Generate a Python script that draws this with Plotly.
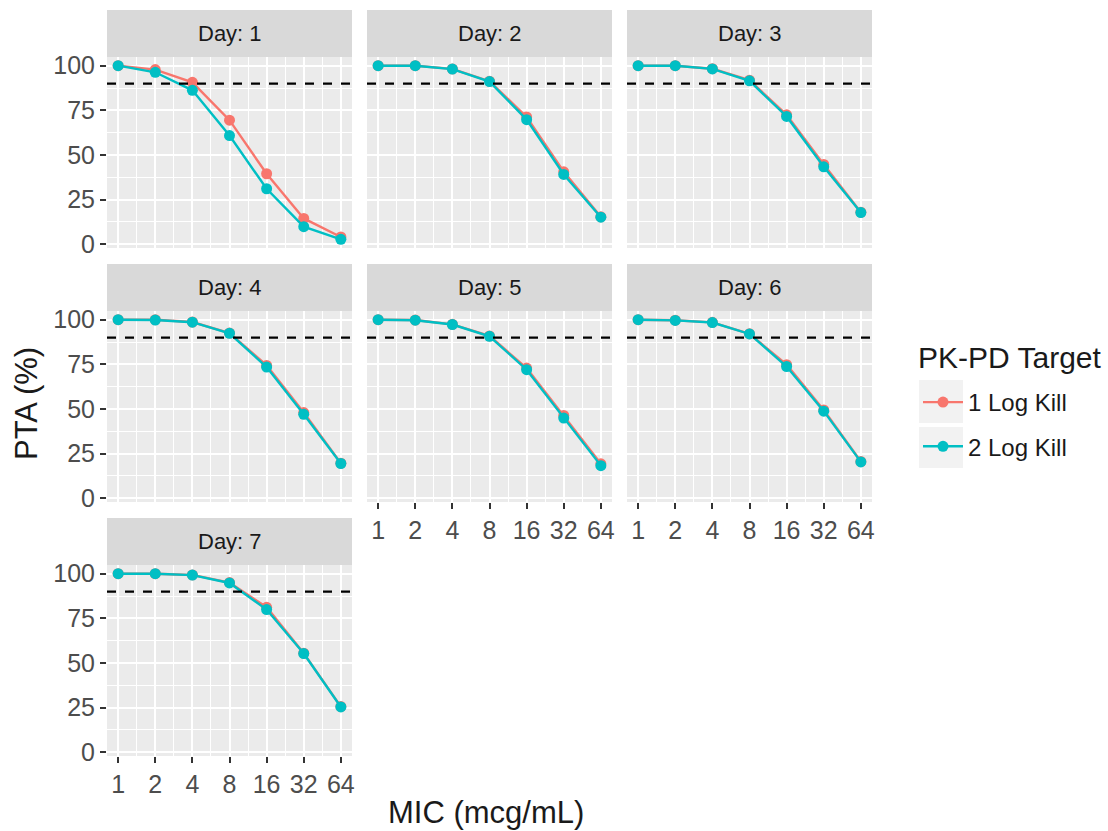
import math
import plotly.graph_objects as go

# ---------------- data ----------------
MIC = [1, 2, 4, 8, 16, 32, 64]
MIC_LABELS = ["1", "2", "4", "8", "16", "32", "64"]
DAYS = [1, 2, 3, 4, 5, 6, 7]
SERIES = ["1 Log Kill", "2 Log Kill"]
TARGET = 90
Y_TICKS = [0, 25, 50, 75, 100]

day1_log1 = [100, 97.8, 90.7, 69.5, 39.5, 14.5, 4.1]
day1_log2 = [100, 96.3, 86.2, 60.9, 31.1, 9.9, 2.8]
day2_log1 = [100, 100, 98.2, 91.3, 71.3, 40.6, 15.4]
day2_log2 = [100, 100, 98.1, 91.1, 69.8, 39.1, 15.2]
day3_log1 = [100, 100, 98.3, 91.9, 72.5, 44.7, 18.0]
day3_log2 = [100, 100, 98.2, 91.5, 71.6, 43.4, 17.8]
day4_log1 = [100, 100, 98.7, 92.5, 74.4, 48.0, 19.7]
day4_log2 = [100, 99.8, 98.6, 92.4, 73.5, 47.0, 19.5]
day5_log1 = [100, 99.8, 97.4, 90.9, 72.9, 46.4, 19.3]
day5_log2 = [100, 99.7, 97.3, 90.7, 72.0, 44.9, 18.3]
day6_log1 = [100, 99.7, 98.5, 92.1, 74.8, 49.5, 20.6]
day6_log2 = [100, 99.6, 98.4, 92.0, 73.8, 48.8, 20.4]
day7_log1 = [100, 100, 99.3, 95.0, 81.2, 55.5, 25.6]
day7_log2 = [100, 100, 99.2, 94.8, 79.9, 55.3, 25.4]

LOG1 = [day1_log1, day2_log1, day3_log1, day4_log1, day5_log1, day6_log1, day7_log1]
LOG2 = [day1_log2, day2_log2, day3_log2, day4_log2, day5_log2, day6_log2, day7_log2]

# ---------------- style ----------------
W, H = 1108, 831
FONT = "Liberation Sans, Arial, sans-serif"
COLORS = ["#F8766D", "#00BFC4"]
COL_X = [(107, 352), (367, 612), (627, 872)]
ROW_Y = [(10, 57, 248), (264, 311, 502), (518, 565, 756)]  # strip top, panel top, panel bottom
TICK_SIZE = 25

lx = math.log10(MIC[0]); hx = math.log10(MIC[-1])
xr = [lx - 0.05 * (hx - lx), hx + 0.05 * (hx - lx)]
minor_x = [math.sqrt(MIC[i] * MIC[i + 1]) for i in range(len(MIC) - 1)]
ymin_d, ymax_d = 2.8, 100
yr = [ymin_d - 0.05 * (ymax_d - ymin_d), ymax_d + 0.05 * (ymax_d - ymin_d)]
minor_y = [12.5, 37.5, 62.5, 87.5]

fig = go.Figure()
layout = dict(
    width=W, height=H, margin=dict(l=0, r=0, t=0, b=0, autoexpand=False),
    paper_bgcolor="white", plot_bgcolor="#EBEBEB",
    font=dict(family=FONT, color="#1A1A1A"),
    showlegend=True,
)
shapes = []
annotations = []

bottom_panels = {4, 5, 6}
for i, day in enumerate(DAYS):
    r, c = divmod(i, 3)
    x0, x1 = COL_X[c]
    st, pt, pb = ROW_Y[r]
    k = "" if i == 0 else str(i + 1)
    show_x = i in bottom_panels
    show_y = c == 0
    layout["xaxis" + k] = dict(
        domain=[x0 / W, x1 / W], anchor="y" + k, type="log", range=xr,
        tickmode="array", tickvals=MIC, ticktext=MIC_LABELS,
        showticklabels=show_x, ticks="outside" if show_x else "",
        ticklen=6, tickwidth=1.6, tickcolor="#333333",
        tickfont=dict(size=TICK_SIZE, color="#4D4D4D", family=FONT),
        showgrid=True, gridcolor="white", gridwidth=1.8, zeroline=False, showline=False,
        minor=dict(tickvals=minor_x, showgrid=True, gridcolor="white", gridwidth=0.9, ticks=""),
        fixedrange=True,
    )
    layout["yaxis" + k] = dict(
        domain=[1 - pb / H, 1 - pt / H], anchor="x" + k, range=yr,
        tickmode="array", tickvals=Y_TICKS,
        showticklabels=show_y, ticks="outside" if show_y else "",
        ticklen=6, tickwidth=1.6, tickcolor="#333333",
        tickfont=dict(size=TICK_SIZE, color="#4D4D4D", family=FONT),
        showgrid=True, gridcolor="white", gridwidth=1.8, zeroline=False, showline=False,
        minor=dict(tickvals=minor_y, showgrid=True, gridcolor="white", gridwidth=0.9, ticks=""),
        fixedrange=True,
    )
    # strip
    shapes.append(dict(type="rect", xref="paper", yref="paper",
                       x0=x0 / W, x1=x1 / W, y0=1 - pt / H, y1=1 - st / H,
                       fillcolor="#D9D9D9", line=dict(width=0), layer="below"))
    annotations.append(dict(text=f"Day: {day}", xref="paper", yref="paper",
                            x=(x0 + x1) / 2 / W, y=1 - (st + pt) / 2 / H,
                            showarrow=False, xanchor="center", yanchor="middle",
                            font=dict(size=22, color="#1A1A1A", family=FONT)))
    # target line
    shapes.append(dict(type="line", xref="x" + k + " domain", yref="y" + k,
                       x0=0, x1=1, y0=TARGET, y1=TARGET,
                       line=dict(color="black", width=2.3, dash="9px,9px"), layer="above"))
    for s, vals in enumerate([LOG1[i], LOG2[i]]):
        fig.add_trace(go.Scatter(
            x=MIC, y=vals, mode="lines+markers", name=SERIES[s],
            legendgroup=SERIES[s], showlegend=(i == 0),
            line=dict(color=COLORS[s], width=2.4),
            marker=dict(color=COLORS[s], size=11),
            xaxis="x" + k, yaxis="y" + k,
        ))

# axis titles
annotations.append(dict(text="MIC (mcg/mL)", xref="paper", yref="paper",
                        x=486 / W, y=1 - 812 / H, showarrow=False,
                        xanchor="center", yanchor="middle",
                        font=dict(size=31, color="#1A1A1A", family=FONT)))
annotations.append(dict(text="PTA (%)", xref="paper", yref="paper",
                        x=27 / W, y=1 - 404 / H, showarrow=False, textangle=-90,
                        xanchor="center", yanchor="middle",
                        font=dict(size=31, color="#1A1A1A", family=FONT)))
# legend title
annotations.append(dict(text="PK-PD Target", xref="paper", yref="paper",
                        x=916 / W, y=1 - 357 / H, showarrow=False,
                        xanchor="left", yanchor="middle",
                        font=dict(size=30, color="#1A1A1A", family=FONT)))

# legend key backgrounds
for (ky0, ky1) in [(380, 423), (427, 468)]:
    shapes.append(dict(type="rect", xref="paper", yref="paper",
                       x0=919 / W, x1=963 / W, y0=1 - ky1 / H, y1=1 - ky0 / H,
                       fillcolor="#F2F2F2", line=dict(width=0), layer="below"))

layout["shapes"] = shapes
layout["annotations"] = annotations
layout["legend"] = dict(
    x=918 / W, y=1 - 380 / H, xanchor="left", yanchor="top",
    bgcolor="rgba(0,0,0,0)", borderwidth=0,
    font=dict(size=24, color="#1A1A1A", family=FONT),
    tracegroupgap=10, itemwidth=40,
)
fig.update_layout(**layout)
fig.write_html("out.html")
